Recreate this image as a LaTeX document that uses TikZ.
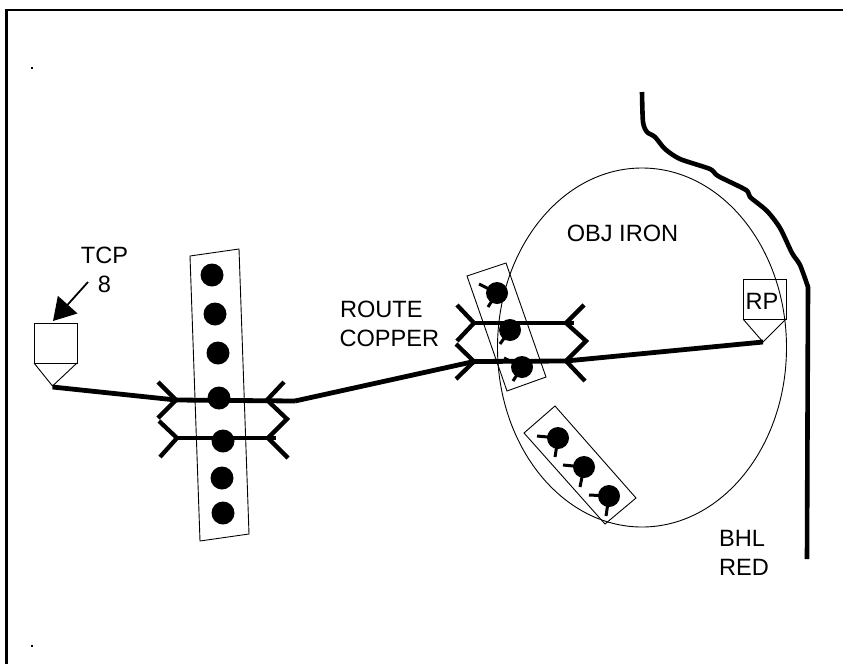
\documentclass[tikz,border=0pt]{standalone}
\usepackage{fontspec}
\setmainfont{Liberation Sans}
\usetikzlibrary{arrows.meta}
\tikzset{
  thinline/.style={line width=0.9pt,line join=miter},
  wire/.style={line width=4.8pt,line join=miter},
  fork/.style={line width=4.3pt,line join=miter},
  bigdot/.style={circle,fill=black,minimum size=23pt,inner sep=0pt,outer sep=0pt},
  smalldot/.style={circle,fill=black,minimum size=22pt,inner sep=0pt,outer sep=0pt},
  label/.style={inner sep=0pt,outer sep=0pt,font=\fontsize{23.6}{28}\selectfont,anchor=base},
  whisker/.style={line width=3pt},
  pointer/.style={line width=1.8pt,-{Triangle[length=22pt,width=26pt]}},
  speck/.style={fill=black,minimum size=2pt,inner sep=0pt,outer sep=0pt}
}
\begin{document}
\begin{tikzpicture}[x=1pt,y=-1pt]
\useasboundingbox (0,0) rectangle (843,664);
\fill[white] (0,0) rectangle (843,664);
% frame
\coordinate (frameBL) at (6.5,664);
\coordinate (frameTL) at (6.5,10);
\coordinate (frameTR) at (843,10);
\draw[line width=2.4pt] (frameBL) -- (frameTL) -- (frameTR);
\node[speck] (speckA) at (32,68) {};
\node[speck] (speckB) at (32,645.5) {};
% object ellipse and boundary
\draw[thinline] (642,347.5) ellipse [x radius=144.5,y radius=179.5];
\draw[line width=4.6pt,line join=round]
  plot[smooth,tension=0.45] coordinates {(642,92) (643,122) (647,132) (655,137) (665,149) (680,159)
  (710,169) (718,176) (746,190) (750,197) (767,211) (780,228)
  (792,253) (800,265) (808,287)} -- (807,559);
% slanted panels
\draw[thinline] (190,256) -- (239,249) -- (249,534) -- (200,541) -- cycle;
\draw[thinline] (467,276) -- (506,263) -- (546,377) -- (507,391) -- cycle;
\draw[thinline] (555,406) -- (636,498) -- (605,524) -- (524,433) -- cycle;
% TCP symbol
\draw[thinline] (34,323) rectangle (77,363);
\draw[thinline] (34,363) -- (52.5,386) -- (77,363);
\coordinate (tcpTip) at (52.5,387);
\coordinate (tcpTop) at (53,321);
\coordinate (tcpFrom) at (88,282);
\draw[pointer] (tcpFrom) -- (tcpTop);
% RP symbol
\draw[thinline] (743,279) rectangle (786,319);
\draw[thinline] (743,319) -- (763,342) -- (786,319);
\coordinate (rpTip) at (763,342);
% left forks
\coordinate (lA) at (176,400);
\coordinate (lB) at (177,438);
\coordinate (lC) at (267,400);
\coordinate (lD) at (268,438);
\coordinate (lE) at (295,401);
\draw[fork] (158,382) -- (lA) -- (158,418);
\draw[fork] (159,421) -- (lB) -- (160,457);
\draw[fork] (284,382) -- (lC) -- (287,419) -- (lD) -- (288,458);
\draw[wire] (tcpTip) -- (lA) -- (lE);
\draw[wire] (lB) -- (275.5,438);
% right forks
\coordinate (rA) at (474,323);
\coordinate (rB) at (474,361.5);
\coordinate (rC) at (566,323);
\coordinate (rD) at (566,361);
\draw[fork] (457,305) -- (rA) -- (457,341);
\draw[fork] (456,344) -- (rB) -- (456,379);
\draw[fork] (584,305) -- (rC) -- (586,341) -- (rD) -- (585,381);
\draw[wire] (lE) -- (rB) -- (rD) -- (rpTip);
\draw[wire] (rA) -- (573.5,323);
% left dots
\node[bigdot] (d1) at (212,275) {};
\node[bigdot] (d2) at (215,314) {};
\node[bigdot] (d3) at (218,353) {};
\node[bigdot] (d4) at (219,398) {};
\node[bigdot] (d5) at (223,441) {};
\node[bigdot] (d6) at (222,478) {};
\node[bigdot] (d7) at (223,513) {};
% right dots with whiskers
\node[smalldot] (e1) at (497,293) {};
\node[smalldot] (e2) at (510,330) {};
\node[smalldot] (e3) at (522,367) {};
\node[smalldot] (f1) at (558,438) {};
\node[smalldot] (f2) at (584,467) {};
\node[smalldot] (f3) at (609,496) {};
\draw[whisker] (479,284) -- (e1.center) (488,307) -- (e1.center);
\draw[whisker] (500,344) -- (e2.center);
\draw[whisker] (504,358) -- (e3.center) (513,381) -- (e3.center);
\draw[whisker] (537,436) -- (f1.center) (555,457) -- (f1.center);
\draw[whisker] (563,465) -- (f2.center) (580,487) -- (f2.center);
\draw[whisker] (589,495) -- (f3.center) (606,516) -- (f3.center);
% labels
\node[label] (tTCP) at (104.5,263) {TCP};
\node[label] (tEight) at (104.5,292) {8};
\node[label,anchor=base west] (tRoute) at (340,317) {ROUTE};
\node[label,anchor=base west] (tCopper) at (339.5,346) {COPPER};
\node[label] (tIron) at (622.5,241) {OBJ IRON};
\node[label] (tRP) at (762,309) {RP};
\node[label,anchor=base west] (tBHL) at (719,546) {BHL};
\node[label,anchor=base west] (tRED) at (719,575) {RED};
\end{tikzpicture}
\end{document}
